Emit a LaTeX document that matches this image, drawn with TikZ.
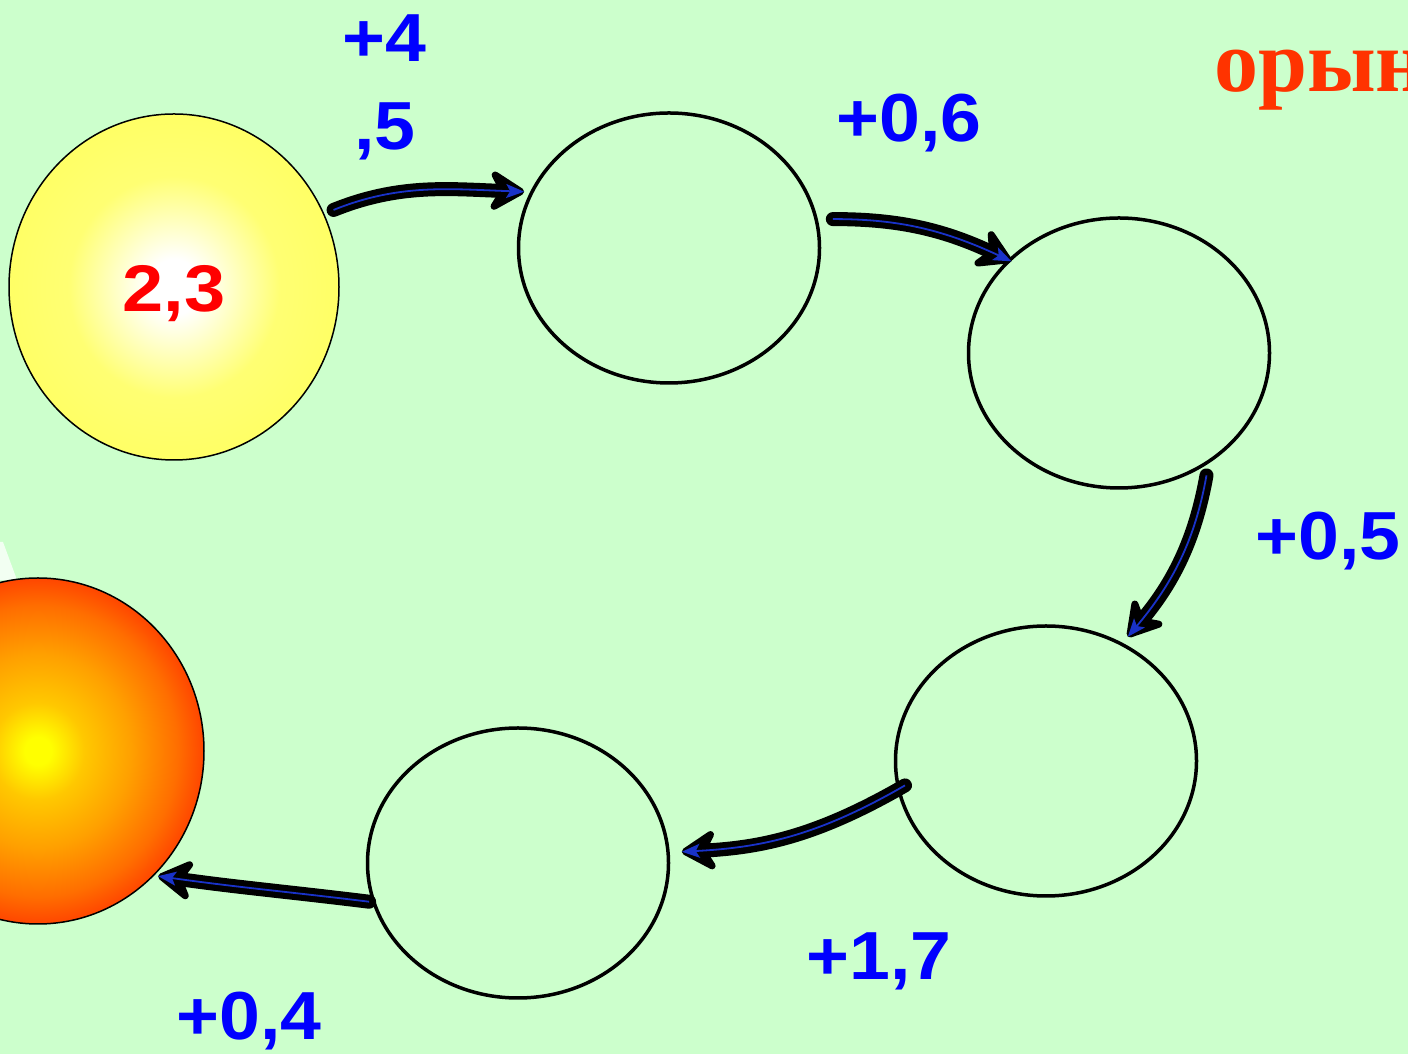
\documentclass[tikz,border=0pt]{standalone}
\usepackage{fontspec}
\usetikzlibrary{shapes.geometric,arrows.meta}
\newfontfamily\labfont{Liberation Sans}
\newfontfamily\serfont{Liberation Serif}
\definecolor{bggreen}{RGB}{204,255,204}
\definecolor{labblue}{RGB}{0,0,255}
\definecolor{titlered}{RGB}{255,51,0}
\definecolor{arrblue}{RGB}{25,50,200}
\pgfdeclareradialshading{yellowball}{\pgfpoint{0bp}{0bp}}{color(0bp)=(white); color(4bp)=(white); color(16bp)=(yellow!55!white); color(28bp)=(yellow!62!white); color(50bp)=(yellow!62!white)}
\definecolor{orA}{RGB}{255,200,0}
\definecolor{orB}{RGB}{255,160,0}
\definecolor{orC}{RGB}{255,110,0}
\definecolor{orD}{RGB}{255,40,0}
\pgfdeclareradialshading{redball}{\pgfpoint{0bp}{0bp}}{color(0bp)=(yellow); color(2bp)=(yellow); color(7bp)=(orA); color(14bp)=(orB); color(21bp)=(orC); color(28bp)=(orD); color(33bp)=(red); color(50bp)=(red)}
\tikzset{
  oval/.style={ellipse, draw=black, line width=3.5pt, inner sep=0pt, minimum width=301pt, minimum height=270pt},
  ball/.style={ellipse, draw=black, line width=1.5pt, inner sep=0pt},
  lab/.style={text=labblue, font=\labfont\bfseries\fontsize{68}{80}\selectfont, inner sep=0pt, anchor=base},
  arr/.style={draw=black, line width=14pt, line cap=round,
    -{Stealth[length=42pt,width=50pt,inset=14pt,round]},
    postaction={draw=arrblue, line width=1.8pt, line cap=butt, -{Stealth[length=18pt,width=14pt,inset=4pt]}}}
}
\newcommand\widetxt[1]{\scalebox{1.08}[1]{#1}}
\begin{document}
\begin{tikzpicture}[x=1pt,y=1pt]
\useasboundingbox (0,0) rectangle (1408,1054);
\clip (0,0) rectangle (1408,1054);
\fill[bggreen] (0,0) rectangle (1408,1054);
% white sliver at left
\fill[white, opacity=0.75] (0,512) -- (3,512) -- (17,474) -- (0,474) -- cycle;
% balls
\node[ball, minimum width=330pt, minimum height=346pt, shading=yellowball] (yc) at (174,767) {};
\node[ball, minimum width=332pt, minimum height=346pt, shading=redball] (rc) at (38,303) {};
\node[text=red, font=\labfont\bfseries\fontsize{66}{70}\selectfont, inner sep=0pt, anchor=base] (num) at (174,742) {\scalebox{1.12}[1]{2,3}};
% ovals
\node[oval] (e1) at (669,806) {};
\node[oval] (e2) at (1119,701) {};
\node[oval] (e3) at (1046,293) {};
\node[oval] (e4) at (518,191) {};
% arrows
\draw[arr, shorten <=10pt, shorten >=6pt] (yc.26) to[out=22,in=178] (e1.158);
\draw[arr, shorten <=15pt, shorten >=-4pt] (e1.11) to[out=0,in=155] (e2.140);
\draw[arr, shorten <=12pt, shorten >=8pt] (e2.-51) to[out=-100,in=50] (e3.57);
\draw[arr, shorten <=-9pt, shorten >=12pt] (e3.191) to[out=210,in=3] (e4.4);
\draw[arr, shorten <=3pt, shorten >=4pt] (e4.195) to[out=173,in=-8] (rc.-47);
% labels
\node[lab] (l1a) at (384,992) {\widetxt{+4}};
\node[lab] (l1b) at (385,904) {\widetxt{,5}};
\node[lab] (l2) at (909,912) {\widetxt{+0,6}};
\node[lab] (l3) at (1328,494) {\widetxt{+0,5}};
\node[lab] (l4) at (879,74) {\widetxt{+1,7}};
\node[lab] (l5) at (249,14) {\widetxt{+0,4}};
% title fragment
\node[text=titlered, font=\serfont\bfseries\fontsize{88}{90}\selectfont, inner sep=0pt, anchor=base west] (title) at (1214,962) {орын};
\end{tikzpicture}
\end{document}
